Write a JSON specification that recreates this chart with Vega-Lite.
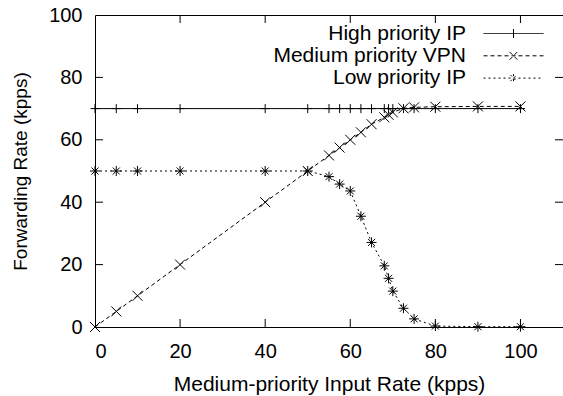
{
  "$schema": "https://vega.github.io/schema/vega-lite/v6.json",
  "width": 468,
  "height": 312,
  "autosize": {"type": "none"},
  "padding": {"left": 95, "top": 15, "right": 0, "bottom": 69},
  "background": "white",
  "config": {
    "view": {"stroke": null},
    "font": "Liberation Sans",
    "axis": {
      "grid": false,
      "domainColor": "black",
      "tickColor": "black",
      "labelColor": "black",
      "titleColor": "black",
      "labelFont": "Liberation Sans",
      "titleFont": "Liberation Sans",
      "labelFontSize": 20,
      "titleFontSize": 20,
      "titleFontWeight": "normal",
      "domainWidth": 1
    }
  },
  "datasets": {
    "series": [
      {"series": "High priority IP", "x": 0, "y": 70},
      {"series": "High priority IP", "x": 5, "y": 70},
      {"series": "High priority IP", "x": 10, "y": 70},
      {"series": "High priority IP", "x": 20, "y": 70},
      {"series": "High priority IP", "x": 40, "y": 70},
      {"series": "High priority IP", "x": 50, "y": 70},
      {"series": "High priority IP", "x": 55, "y": 70},
      {"series": "High priority IP", "x": 57.5, "y": 70},
      {"series": "High priority IP", "x": 60, "y": 70},
      {"series": "High priority IP", "x": 62.5, "y": 70},
      {"series": "High priority IP", "x": 65, "y": 70},
      {"series": "High priority IP", "x": 68, "y": 70},
      {"series": "High priority IP", "x": 69, "y": 70},
      {"series": "High priority IP", "x": 70, "y": 70},
      {"series": "High priority IP", "x": 72.5, "y": 70},
      {"series": "High priority IP", "x": 75, "y": 70},
      {"series": "High priority IP", "x": 80, "y": 70},
      {"series": "High priority IP", "x": 90, "y": 70},
      {"series": "High priority IP", "x": 100, "y": 70},
      {"series": "Medium priority VPN", "x": 0, "y": 0},
      {"series": "Medium priority VPN", "x": 5, "y": 5},
      {"series": "Medium priority VPN", "x": 10, "y": 10},
      {"series": "Medium priority VPN", "x": 20, "y": 20},
      {"series": "Medium priority VPN", "x": 40, "y": 40},
      {"series": "Medium priority VPN", "x": 50, "y": 50},
      {"series": "Medium priority VPN", "x": 55, "y": 55},
      {"series": "Medium priority VPN", "x": 57.5, "y": 57.5},
      {"series": "Medium priority VPN", "x": 60, "y": 60},
      {"series": "Medium priority VPN", "x": 62.5, "y": 62.4},
      {"series": "Medium priority VPN", "x": 65, "y": 65},
      {"series": "Medium priority VPN", "x": 68, "y": 67.2},
      {"series": "Medium priority VPN", "x": 69, "y": 68},
      {"series": "Medium priority VPN", "x": 70, "y": 68.8},
      {"series": "Medium priority VPN", "x": 72.5, "y": 70.1},
      {"series": "Medium priority VPN", "x": 75, "y": 70.4},
      {"series": "Medium priority VPN", "x": 80, "y": 70.6},
      {"series": "Medium priority VPN", "x": 90, "y": 70.7},
      {"series": "Medium priority VPN", "x": 100, "y": 70.7},
      {"series": "Low priority IP", "x": 0, "y": 50},
      {"series": "Low priority IP", "x": 5, "y": 50},
      {"series": "Low priority IP", "x": 10, "y": 50},
      {"series": "Low priority IP", "x": 20, "y": 50},
      {"series": "Low priority IP", "x": 40, "y": 50},
      {"series": "Low priority IP", "x": 50, "y": 50},
      {"series": "Low priority IP", "x": 55, "y": 48.2},
      {"series": "Low priority IP", "x": 57.5, "y": 45.8},
      {"series": "Low priority IP", "x": 60, "y": 43.6},
      {"series": "Low priority IP", "x": 62.5, "y": 35.5},
      {"series": "Low priority IP", "x": 65, "y": 27.1},
      {"series": "Low priority IP", "x": 68, "y": 19.6},
      {"series": "Low priority IP", "x": 69, "y": 15.6},
      {"series": "Low priority IP", "x": 70, "y": 11.5},
      {"series": "Low priority IP", "x": 72.5, "y": 6},
      {"series": "Low priority IP", "x": 75, "y": 2.6},
      {"series": "Low priority IP", "x": 80, "y": 0.3},
      {"series": "Low priority IP", "x": 90, "y": 0.1},
      {"series": "Low priority IP", "x": 100, "y": 0.1}
    ],
    "xticks": [{"t": 20}, {"t": 40}, {"t": 60}, {"t": 80}, {"t": 100}],
    "yticks": [{"t": 20}, {"t": 40}, {"t": 60}, {"t": 80}]
  },
  "resolve": {"axis": {"x": "independent", "y": "independent"}},
  "layer": [
    {
      "data": {"name": "series"},
      "mark": {"type": "line", "color": "black", "strokeWidth": 1},
      "encoding": {
        "x": {
          "field": "x", "type": "quantitative",
          "scale": {"domain": [0, 110], "nice": false, "zero": false},
          "axis": {"orient": "bottom", "values": [0, 20, 40, 60, 80, 100], "ticks": false, "title": "Medium-priority Input Rate (kpps)", "titleFontSize": 21, "labelPadding": 14, "titlePadding": 12}
        },
        "y": {
          "field": "y", "type": "quantitative",
          "scale": {"domain": [0, 100], "nice": false},
          "axis": {"orient": "left", "values": [0, 20, 40, 60, 80, 100], "ticks": false, "title": "Forwarding Rate (kpps)", "labelPadding": 13, "titlePadding": 18, "titleFontSize": 19}
        },
        "strokeDash": {
          "field": "series", "type": "nominal",
          "scale": {"domain": ["High priority IP", "Medium priority VPN", "Low priority IP"], "range": [[1, 0], [4, 3], [2, 3]]},
          "legend": {
            "title": null,
            "orient": "none",
            "legendX": 408,
            "legendY": 8,
            "padding": 0,
            "symbolSize": 100,
            "labelAlign": "right",
            "labelOffset": -58,
            "labelFontSize": 21,
            "labelFont": "Liberation Sans",
            "labelColor": "black",
            "labelLimit": 400,
            "rowPadding": 0.3,
            "symbolStrokeColor": "black",
            "symbolStrokeWidth": 1,
            "encode": {
              "symbols": {
                "update": {
                  "size": {"value": 100},
                  "stroke": {"value": "black"},
                  "strokeWidth": {"value": 1},
                  "fill": {"value": "transparent"},
                  "shape": {"signal": "datum.value === 'High priority IP' ? 'M-6,0H6M0,-0.9V0.9' : datum.value === 'Medium priority VPN' ? 'M-6,0H6M-0.8,-0.8L0.8,0.8M-0.8,0.8L0.8,-0.8' : 'M-6,0H6M0,-0.8V0.8M-0.6,-0.6L0.6,0.6M-0.6,0.6L0.6,-0.6'"}
                }
              }
            }
          }
        }
      }
    },
    {
      "data": {"name": "series"},
      "transform": [{"filter": "datum.series === 'High priority IP'"}],
      "mark": {"type": "point", "filled": false, "stroke": "black", "strokeWidth": 1, "size": 100, "opacity": 1, "shape": "M-0.9,0H0.9M0,-0.9V0.9"},
      "encoding": {
        "x": {
          "field": "x", "type": "quantitative",
          "axis": {"orient": "top", "values": [0, 20, 40, 60, 80, 100], "ticks": false, "labels": false, "title": null}
        },
        "y": {"field": "y", "type": "quantitative", "axis": null}
      }
    },
    {
      "data": {"name": "series"},
      "transform": [{"filter": "datum.series === 'Medium priority VPN'"}],
      "mark": {"type": "point", "filled": false, "stroke": "black", "strokeWidth": 1, "size": 100, "opacity": 1, "shape": "M-1,-1L1,1M-1,1L1,-1"},
      "encoding": {
        "x": {"field": "x", "type": "quantitative", "axis": null},
        "y": {"field": "y", "type": "quantitative", "axis": null}
      }
    },
    {
      "data": {"name": "series"},
      "transform": [{"filter": "datum.series === 'Low priority IP'"}],
      "mark": {"type": "point", "filled": false, "stroke": "black", "strokeWidth": 1, "size": 100, "opacity": 1, "shape": "M-1,0H1M0,-1V1M-0.7,-0.7L0.7,0.7M-0.7,0.7L0.7,-0.7"},
      "encoding": {
        "x": {"field": "x", "type": "quantitative", "axis": null},
        "y": {"field": "y", "type": "quantitative", "axis": null}
      }
    },
    {
      "data": {"name": "xticks"},
      "mark": {"type": "rule", "color": "black", "strokeWidth": 1},
      "encoding": {
        "x": {"field": "t", "type": "quantitative", "axis": null},
        "y": {"datum": 0, "type": "quantitative", "axis": null},
        "y2": {"datum": 2.56}
      }
    },
    {
      "data": {"name": "xticks"},
      "mark": {"type": "rule", "color": "black", "strokeWidth": 1},
      "encoding": {
        "x": {"field": "t", "type": "quantitative", "axis": null},
        "y": {"datum": 100, "type": "quantitative", "axis": null},
        "y2": {"datum": 97.44}
      }
    },
    {
      "data": {"name": "yticks"},
      "mark": {"type": "rule", "color": "black", "strokeWidth": 1},
      "encoding": {
        "y": {"field": "t", "type": "quantitative", "axis": null},
        "x": {"datum": 0, "type": "quantitative", "axis": null},
        "x2": {"datum": 1.88}
      }
    },
    {
      "data": {"name": "yticks"},
      "mark": {"type": "rule", "color": "black", "strokeWidth": 1},
      "encoding": {
        "y": {"field": "t", "type": "quantitative", "axis": null},
        "x": {"datum": 110, "type": "quantitative", "axis": null},
        "x2": {"datum": 108.12}
      }
    }
  ]
}
